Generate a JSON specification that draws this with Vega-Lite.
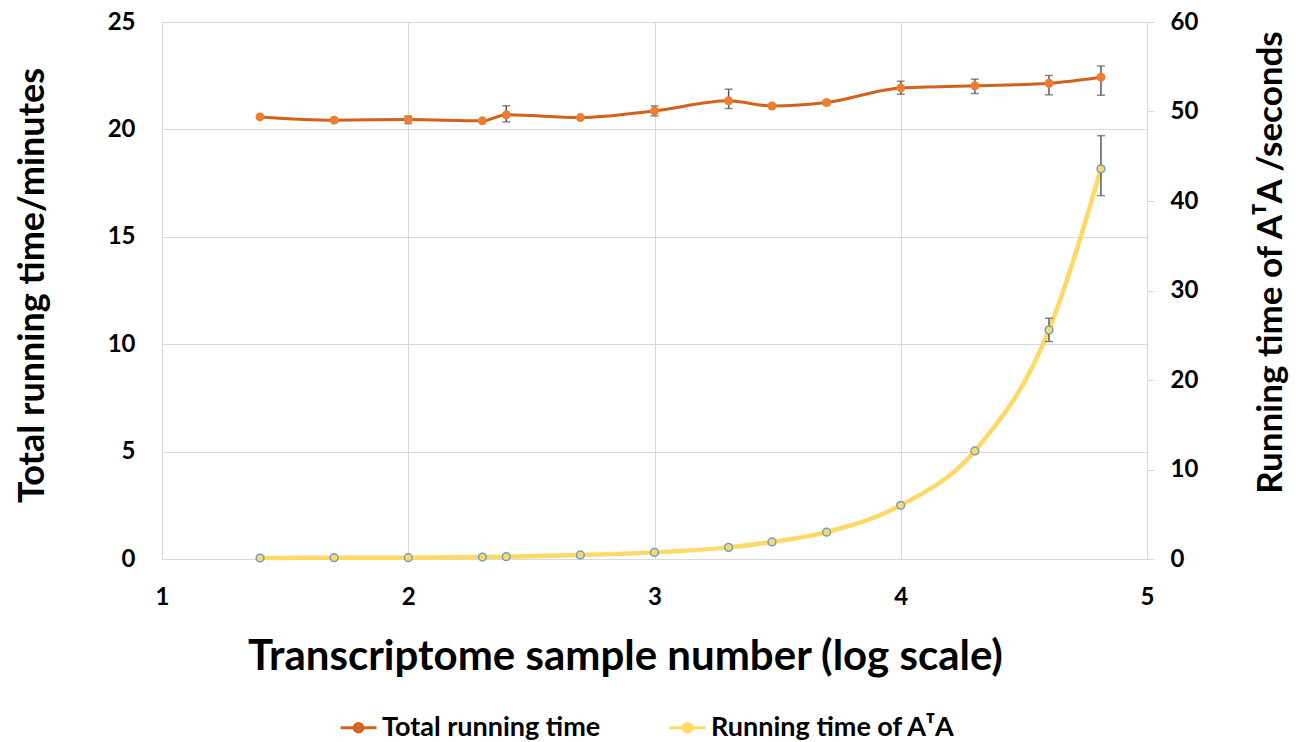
{
  "$schema": "https://vega.github.io/schema/vega-lite/v6.json",
  "width": 985,
  "height": 537,
  "autosize": "none",
  "padding": {"left": 162, "top": 22, "right": 152, "bottom": 183},
  "background": "white",
  "config": {
    "font": "Lato",
    "view": {"stroke": null},
    "axis": {"labelFont": "Lato", "titleFont": "Lato", "labelColor": "#000000", "titleColor": "#000000", "labelFontWeight": "bold", "titleFontWeight": "bold"}
  },
  "datasets": {
    "main": [
      {"logn": 1.398, "total": 20.58, "ata": 0.11},
      {"logn": 1.699, "total": 20.43, "ata": 0.15},
      {"logn": 2.0, "total": 20.46, "ata": 0.15},
      {"logn": 2.301, "total": 20.40, "ata": 0.22},
      {"logn": 2.398, "total": 20.68, "ata": 0.26},
      {"logn": 2.699, "total": 20.55, "ata": 0.45},
      {"logn": 3.0, "total": 20.86, "ata": 0.74},
      {"logn": 3.301, "total": 21.33, "ata": 1.3},
      {"logn": 3.477, "total": 21.09, "ata": 1.9},
      {"logn": 3.699, "total": 21.25, "ata": 3.0},
      {"logn": 4.0, "total": 21.93, "ata": 6.0},
      {"logn": 4.301, "total": 22.03, "ata": 12.07},
      {"logn": 4.602, "total": 22.15, "ata": 25.6},
      {"logn": 4.813, "total": 22.43, "ata": 43.6}
    ],
    "errTotal": [
      {"logn": 2.0, "lo": 20.27, "hi": 20.62},
      {"logn": 2.398, "lo": 20.35, "hi": 21.1},
      {"logn": 3.0, "lo": 20.63, "hi": 21.09},
      {"logn": 3.301, "lo": 20.97, "hi": 21.87},
      {"logn": 3.699, "lo": 21.15, "hi": 21.35},
      {"logn": 4.0, "lo": 21.64, "hi": 22.24},
      {"logn": 4.301, "lo": 21.67, "hi": 22.34},
      {"logn": 4.602, "lo": 21.61, "hi": 22.51},
      {"logn": 4.813, "lo": 21.59, "hi": 22.95}
    ],
    "errAta": [
      {"logn": 4.602, "lo": 24.3, "hi": 26.9},
      {"logn": 4.813, "lo": 40.6, "hi": 47.3}
    ]
  },
  "layer": [
    {
      "layer": [
        {
          "data": {"name": "main"},
          "mark": {"type": "line", "interpolate": "monotone", "strokeWidth": 3},
          "encoding": {
            "x": {
              "field": "logn", "type": "quantitative",
              "scale": {"domain": [1, 5], "nice": false, "zero": false},
              "axis": {
                "values": [1, 2, 3, 4, 5], "format": "d", "grid": true, "gridColor": "#d9d9d9", "domainColor": "#d9d9d9",
                "ticks": false, "labelFontSize": 24, "labelPadding": 26, "labelFlush": false, "labelOverlap": false,
                "title": "Transcriptome sample number (log scale)", "titleFontSize": 42,
                "titleX": 463, "titleY": 110, "titleBaseline": "alphabetic", "titleAlign": "center"
              }
            },
            "y": {
              "field": "total", "type": "quantitative", "title": "Total running time/minutes",
              "scale": {"domain": [0, 25], "nice": false},
              "axis": {
                "orient": "left", "values": [0, 5, 10, 15, 20, 25], "grid": true, "gridColor": "#d9d9d9",
                "domainColor": "#d9d9d9", "ticks": false, "labelFontSize": 24, "labelPadding": 27,
                "titleFontSize": 36, "titleAngle": -90,
                "titleX": -130, "titleY": 263, "titleBaseline": "middle", "titleAlign": "center"
              }
            },
            "stroke": {
              "datum": "Total running time", "type": "nominal",
              "scale": {"domain": ["Total running time", "Running time of AᵀA"], "range": ["#D2611C", "#FFD966"]},
              "legend": {
                "orient": "none", "legendX": 177, "legendY": 686, "direction": "horizontal", "title": null,
                "symbolType": "M-1,0L1,0M-0.24,0A0.24,0.24 0 1,0 0.24,0A0.24,0.24 0 1,0 -0.24,0",
                "symbolSize": 1296, "symbolStrokeWidth": 3, "labelFontSize": 27, "labelFontWeight": "bold",
                "labelColor": "#000000", "labelFont": "Lato", "labelLimit": 500, "columnPadding": 62, "labelOffset": 4
              }
            }
          }
        },
        {
          "data": {"name": "errTotal"},
          "mark": {"type": "errorbar", "color": "#595959", "thickness": 1.5, "ticks": {"size": 8}},
          "encoding": {
            "x": {"field": "logn", "type": "quantitative"},
            "y": {"field": "lo", "type": "quantitative", "title": "Total running time/minutes"},
            "y2": {"field": "hi"}
          }
        },
        {
          "data": {"name": "main"},
          "mark": {"type": "point", "filled": true, "size": 80, "opacity": 1},
          "encoding": {
            "x": {"field": "logn", "type": "quantitative"},
            "y": {"field": "total", "type": "quantitative", "title": "Total running time/minutes"},
            "fill": {
              "datum": "Total running time", "type": "nominal",
              "scale": {"domain": ["Total running time", "Running time of AᵀA"], "range": ["#ED7D31", "#FFD966"]}
            }
          }
        }
      ]
    },
    {
      "layer": [
        {
          "data": {"name": "main"},
          "mark": {"type": "line", "interpolate": "monotone", "strokeWidth": 4.5},
          "encoding": {
            "x": {"field": "logn", "type": "quantitative"},
            "y": {
              "field": "ata", "type": "quantitative", "title": "Running time of AᵀA /seconds",
              "scale": {"domain": [0, 60], "nice": false},
              "axis": {
                "orient": "right", "values": [0, 10, 20, 30, 40, 50, 60], "grid": false,
                "domainColor": "#d9d9d9", "ticks": true, "tickSize": 7, "tickColor": "#d9d9d9",
                "labelFontSize": 24, "labelPadding": 16,
                "titleFontSize": 35, "titleAngle": -90,
                "titleX": 123, "titleY": 240, "titleBaseline": "middle", "titleAlign": "center"
              }
            },
            "stroke": {"datum": "Running time of AᵀA", "type": "nominal"}
          }
        },
        {
          "data": {"name": "errAta"},
          "mark": {"type": "errorbar", "color": "#595959", "thickness": 1.5, "ticks": {"size": 8}},
          "encoding": {
            "x": {"field": "logn", "type": "quantitative"},
            "y": {"field": "lo", "type": "quantitative", "title": "Running time of AᵀA /seconds"},
            "y2": {"field": "hi"}
          }
        },
        {
          "data": {"name": "main"},
          "mark": {"type": "point", "filled": true, "size": 60, "opacity": 1, "stroke": "#6A9FD0", "strokeWidth": 1.5},
          "encoding": {
            "x": {"field": "logn", "type": "quantitative"},
            "y": {"field": "ata", "type": "quantitative", "title": "Running time of AᵀA /seconds"},
            "fill": {"datum": "Running time of AᵀA", "type": "nominal"}
          }
        }
      ]
    }
  ],
  "resolve": {"scale": {"y": "independent"}}
}
